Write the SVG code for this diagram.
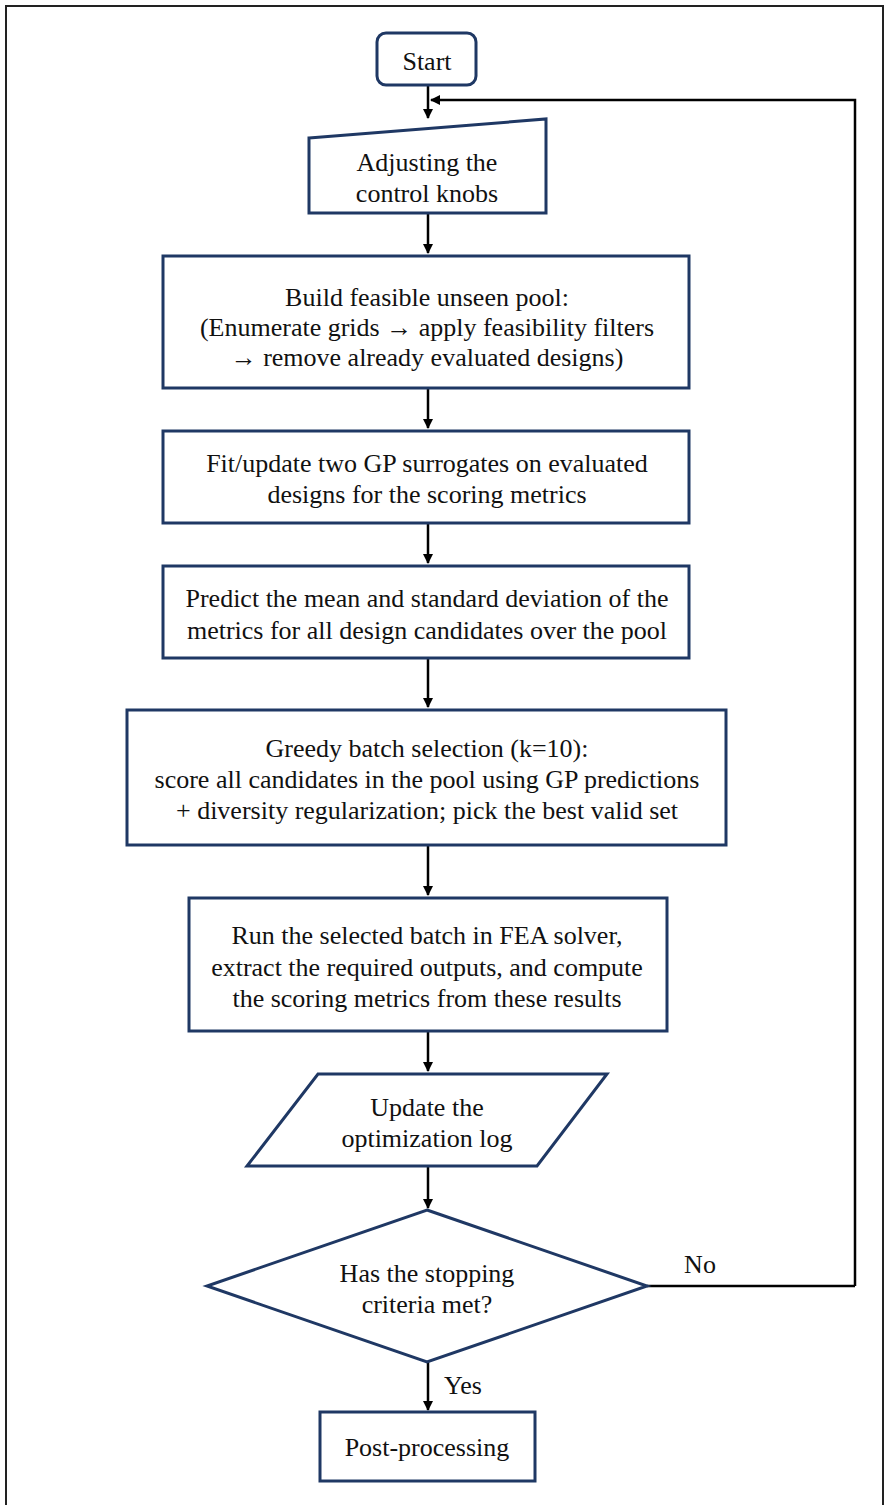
<svg xmlns="http://www.w3.org/2000/svg" width="888" height="1505" viewBox="0 0 888 1505">
<style>
.n{fill:#fff;stroke:#1f3864;stroke-width:3}
.t{font-family:"Liberation Serif","Times New Roman",serif;font-size:26px;fill:#111;text-anchor:middle}
.c{fill:none;stroke:#000;stroke-width:2.5}
</style>
<defs>
<marker id="ah" markerWidth="10" markerHeight="10" refX="9" refY="5" orient="auto" markerUnits="userSpaceOnUse" viewBox="0 0 10 10">
<path d="M0,0 L10,5 L0,10 Z" fill="#000"/>
</marker>
</defs>
<rect x="6" y="6" width="877" height="1510" fill="#fff" stroke="#222" stroke-width="2"/>
<g id="connectors">
<path class="c" d="M428,85 V118" marker-end="url(#ah)"/>
<path class="c" d="M855,1286 V100 H431" marker-end="url(#ah)"/>
<path class="c" d="M647,1286 H855"/>
<path class="c" d="M428,213 V253" marker-end="url(#ah)"/>
<path class="c" d="M428,388 V428" marker-end="url(#ah)"/>
<path class="c" d="M428,523 V563" marker-end="url(#ah)"/>
<path class="c" d="M428,658 V707" marker-end="url(#ah)"/>
<path class="c" d="M428,845 V895" marker-end="url(#ah)"/>
<path class="c" d="M428,1031 V1071" marker-end="url(#ah)"/>
<path class="c" d="M428,1167 V1208" marker-end="url(#ah)"/>
<path class="c" d="M428,1362 V1410" marker-end="url(#ah)"/>
<text class="t" x="700" y="1273">No</text>
<text class="t" x="463" y="1394">Yes</text>
</g>
<g id="start">
<rect class="n" x="377" y="33" width="99" height="52" rx="9"/>
<text class="t" x="427" y="70">Start</text>
</g>
<g id="adjust">
<polygon class="n" points="309,138 546,119 546,213 309,213"/>
<text class="t" x="427" y="171">Adjusting the</text>
<text class="t" x="427" y="202">control knobs</text>
</g>
<g id="pool">
<rect class="n" x="163" y="256" width="526" height="132"/>
<text class="t" x="427" y="306">Build feasible unseen pool:</text>
<text class="t" x="427" y="336">(Enumerate grids → apply feasibility filters</text>
<text class="t" x="427" y="366">→ remove already evaluated designs)</text>
</g>
<g id="fit">
<rect class="n" x="163" y="431" width="526" height="92"/>
<text class="t" x="427" y="472">Fit/update two GP surrogates on evaluated</text>
<text class="t" x="427" y="503">designs for the scoring metrics</text>
</g>
<g id="predict">
<rect class="n" x="163" y="566" width="526" height="92"/>
<text class="t" x="427" y="607">Predict the mean and standard deviation of the</text>
<text class="t" x="427" y="639">metrics for all design candidates over the pool</text>
</g>
<g id="greedy">
<rect class="n" x="127" y="710" width="599" height="135"/>
<text class="t" x="427" y="757">Greedy batch selection (k=10):</text>
<text class="t" x="427" y="788">score all candidates in the pool using GP predictions</text>
<text class="t" x="427" y="819">+ diversity regularization; pick the best valid set</text>
</g>
<g id="run">
<rect class="n" x="189" y="898" width="478" height="133"/>
<text class="t" x="427" y="944">Run the selected batch in FEA solver,</text>
<text class="t" x="427" y="976">extract the required outputs, and compute</text>
<text class="t" x="427" y="1007">the scoring metrics from these results</text>
</g>
<g id="log">
<polygon class="n" points="318,1074 607,1074 537,1166 247,1166"/>
<text class="t" x="427" y="1116">Update the</text>
<text class="t" x="427" y="1147">optimization log</text>
</g>
<g id="decision">
<polygon class="n" points="427,1210 647,1286 427,1362 207,1286"/>
<text class="t" x="427" y="1282">Has the stopping</text>
<text class="t" x="427" y="1313">criteria met?</text>
</g>
<g id="post">
<rect class="n" x="320" y="1412" width="215" height="69"/>
<text class="t" x="427" y="1456">Post-processing</text>
</g>
</svg>
